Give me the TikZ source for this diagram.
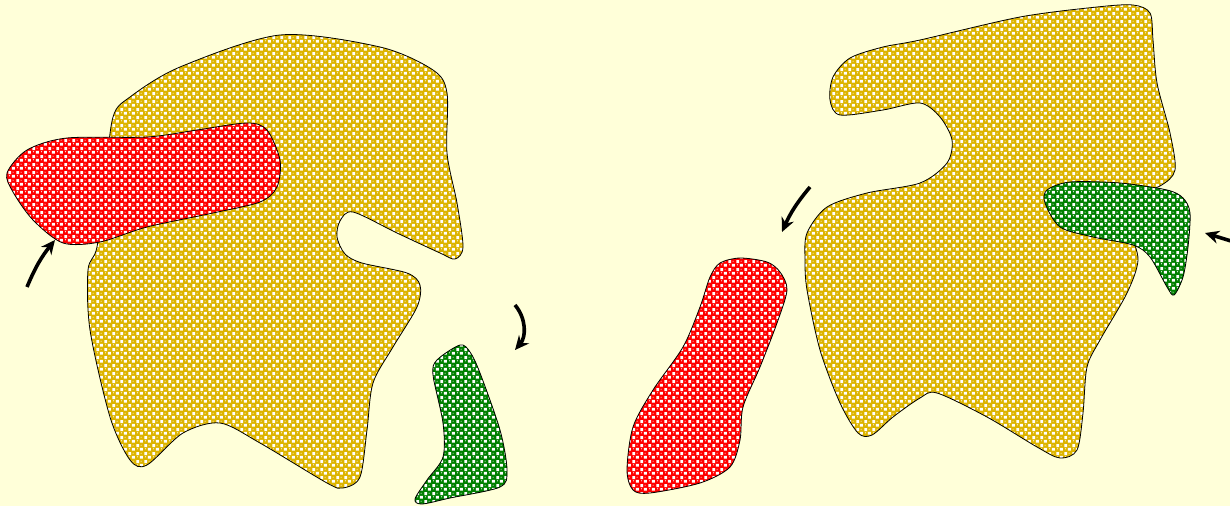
\documentclass[tikz,border=0pt]{standalone}
\usepackage{tikz}
\usetikzlibrary{arrows.meta,patterns}
\definecolor{Cream}{HTML}{FFFFD9}
\definecolor{Gold}{HTML}{DDB400}
\definecolor{Red}{HTML}{FF0000}
\definecolor{Green}{HTML}{008000}
% white checks and highlights laid over the colour
\pgfdeclarepatternformonly{ballgrid}{\pgfqpoint{0pt}{0pt}}{\pgfqpoint{8pt}{8pt}}{\pgfqpoint{8pt}{8pt}}{%
  \pgfpathrectangle{\pgfqpoint{0.4pt}{4.4pt}}{\pgfqpoint{3.2pt}{3.2pt}}%
  \pgfpathrectangle{\pgfqpoint{4.4pt}{0.4pt}}{\pgfqpoint{3.2pt}{3.2pt}}%
  \pgfpathcircle{\pgfqpoint{1.7pt}{2.5pt}}{0.6pt}%
  \pgfpathcircle{\pgfqpoint{5.7pt}{6.5pt}}{0.6pt}%
  \pgfusepath{fill}}
\tikzset{
  blob/.style={preaction={fill=#1},pattern=ballgrid,pattern color=white,
               draw=black,line width=0.8pt},
  move/.style={-{Stealth[length=14pt,width=13pt]},line width=3.6pt,draw=black}
}

\begin{document}
\begin{tikzpicture}[x=1pt,y=-1pt]
  \useasboundingbox (0,0) rectangle (1230,506);
  \fill[Cream] (0,0) rectangle (1230,506);
  \clip (0,0) rectangle (1230,506);

  % left scene
  \draw[blob=Gold] plot[smooth cycle] coordinates {(113,117) (130,97) (180,67) (280,35)
    (380,47) (433,70) (447,93) (447,153) (457,203) (463,247) (455,259) (440,253) (397,233)
    (353,212) (340,221) (337,237) (345,254) (362,263) (407,273) (420,285) (417,307) (393,347)
    (373,383) (367,430) (360,477) (343,488) (327,483) (260,443) (220,423) (183,433) (147,465)
    (130,460) (110,417) (90,330) (88,270) (97,247) (105,180)};
  \draw[blob=Red] plot[smooth cycle] coordinates {(7,173) (27,150) (67,138) (147,137)
    (197,130) (247,123) (267,130) (280,160) (277,187) (260,202) (213,213) (147,227) (100,242)
    (63,243) (33,220) (13,192)};
  \draw[blob=Green] plot[smooth cycle] coordinates {(460,345) (437,360) (433,375) (443,423)
    (443,457) (427,480) (415,499) (422,504) (450,498) (500,487) (507,470) (500,430) (480,373)
    (470,352)};

  % right scene
  \draw[blob=Gold] plot[smooth cycle] coordinates {(833,77) (830,100) (840,115) (883,110)
    (920,103) (940,117) (952,140) (947,163) (920,183) (867,193) (827,207) (807,233) (805,260)
    (807,290) (820,350) (840,403) (858,433) (872,435) (893,417) (920,398) (937,393) (987,417)
    (1037,447) (1060,458) (1077,450) (1083,413) (1087,367) (1100,340) (1127,293) (1138,260)
    (1130,230) (1125,200) (1160,186) (1175,170) (1170,133) (1157,83) (1153,40) (1150,13)
    (1133,5) (1097,7) (1020,17) (920,40) (883,47) (850,58)};
  \draw[blob=Green] plot[smooth cycle] coordinates {(1047,190) (1045,203) (1060,227)
    (1093,237) (1133,245) (1150,257) (1167,287) (1174,295) (1183,277) (1188,247) (1190,213)
    (1183,198) (1167,190) (1120,183) (1070,182)};
  \draw[blob=Red] plot[smooth cycle] coordinates {(740,258) (720,263) (710,277) (700,307)
    (683,347) (653,390) (633,427) (627,470) (633,490) (650,493) (700,483) (730,467) (740,440)
    (743,407) (760,367) (777,323) (787,290) (780,272) (767,262)};

  % arrows
  \coordinate (redL0) at (27,287);   \coordinate (redL1) at (55,240);
  \coordinate (greenL0) at (515,305); \coordinate (greenL1) at (515,350);
  \coordinate (redR0) at (810,187);  \coordinate (redR1) at (782,232);
  \coordinate (greenR0) at (1244,245); \coordinate (greenR1) at (1205,233);
  \draw[move] (redL0) to[bend left=8] (redL1);
  \draw[move] (greenL0) to[bend left=40] (greenL1);
  \draw[move] (redR0) to[bend right=8] (redR1);
  \draw[move] (greenR0) -- (greenR1);
\end{tikzpicture}
\end{document}
